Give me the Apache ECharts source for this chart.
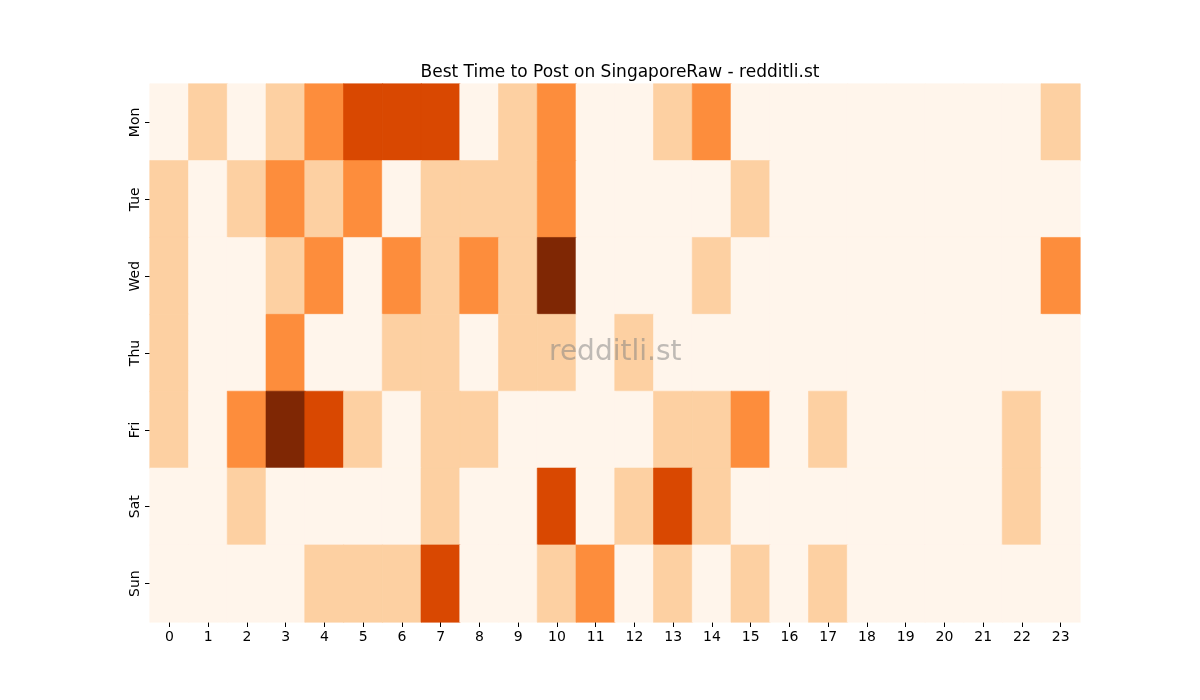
<!DOCTYPE html>
<html lang="en">
<head>
    <meta charset="UTF-8">
    <title>Best Time to Post on SingaporeRaw</title>
    <style>
        html, body { margin: 0; padding: 0; background: #fff; }
        #chart { width: 1200px; height: 700px; }
    </style>
</head>
<body>
    <div id="chart"></div>
    <script src="https://cdn.jsdelivr.net/npm/echarts@6/dist/echarts.min.js"></script>
    <script>
    // hours on x, weekdays on y (top to bottom)
    var hours = ['0','1','2','3','4','5','6','7','8','9','10','11','12','13','14','15','16','17','18','19','20','21','22','23'];
    var days = ['Mon', 'Tue', 'Wed', 'Thu', 'Fri', 'Sat', 'Sun'];

    // activity level per hour, one row per day
    var mon = [0,1,0,1,2,3,3,3,0,1,2,0,0,1,2,0,0,0,0,0,0,0,0,1];
    var tue = [1,0,1,2,1,2,0,1,1,1,2,0,0,0,0,1,0,0,0,0,0,0,0,0];
    var wed = [1,0,0,1,2,0,2,1,2,1,4,0,0,0,1,0,0,0,0,0,0,0,0,2];
    var thu = [1,0,0,2,0,0,1,1,0,1,1,0,1,0,0,0,0,0,0,0,0,0,0,0];
    var fri = [1,0,2,4,3,1,0,1,1,0,0,0,0,1,1,2,0,1,0,0,0,0,1,0];
    var sat = [0,0,1,0,0,0,0,1,0,0,3,0,1,3,1,0,0,0,0,0,0,0,1,0];
    var sun = [0,0,0,0,1,1,1,3,0,0,1,2,0,1,0,1,0,1,0,0,0,0,0,0];

    // Oranges colormap steps
    var levelColors = ['#fff5eb', '#fdd0a2', '#fd8d3c', '#d94801', '#7f2704'];

    var rows = [mon, tue, wed, thu, fri, sat, sun];
    var cells = [];
    for (var d = 0; d < rows.length; d++) {
        for (var h = 0; h < hours.length; h++) {
            var v = rows[d][h];
            // same-colour border hides the hairline seams between cells
            cells.push({ value: [h, d, v], itemStyle: { borderColor: levelColors[v], borderWidth: 0.6 } });
        }
    }

    var chart = echarts.init(document.getElementById('chart'));
    var font = 'DejaVu Sans';
    chart.setOption({
        animation: false,
        textStyle: { fontFamily: font },
        title: {
            text: 'Best Time to Post on SingaporeRaw - redditli.st',
            left: 615,
            top: 59,
            textAlign: 'center',
            textStyle: { fontFamily: font, fontSize: 17, fontWeight: 'normal', color: '#000' }
        },
        grid: { left: 150, right: 120, top: 84, bottom: 78 },
        xAxis: {
            type: 'category',
            data: hours,
            axisLine: { show: false },
            axisTick: { show: true, alignWithLabel: true, length: 5, lineStyle: { color: '#000' } },
            axisLabel: { color: '#000', fontSize: 14, margin: 8 },
            splitArea: { show: false }
        },
        yAxis: {
            type: 'category',
            data: days,
            inverse: true,
            axisLine: { show: false },
            axisTick: { show: true, alignWithLabel: true, length: 5, lineStyle: { color: '#000' } },
            axisLabel: { color: '#000', fontSize: 14, rotate: 90, margin: 8 },
            splitArea: { show: false }
        },
        visualMap: {
            type: 'piecewise',
            show: false,
            dimension: 2,
            pieces: levelColors.map(function (c, i) { return { value: i, color: c }; })
        },
        series: [{
            type: 'heatmap',
            data: cells,
            emphasis: { disabled: true }
        }],
        graphic: [{
            type: 'text',
            left: 549,
            top: 339,
            z: 100,
            style: {
                text: 'redditli.st',
                fontFamily: font,
                fontSize: 28,
                fill: 'rgba(128,128,128,0.5)'
            }
        }]
    });
    </script>
</body>
</html>
